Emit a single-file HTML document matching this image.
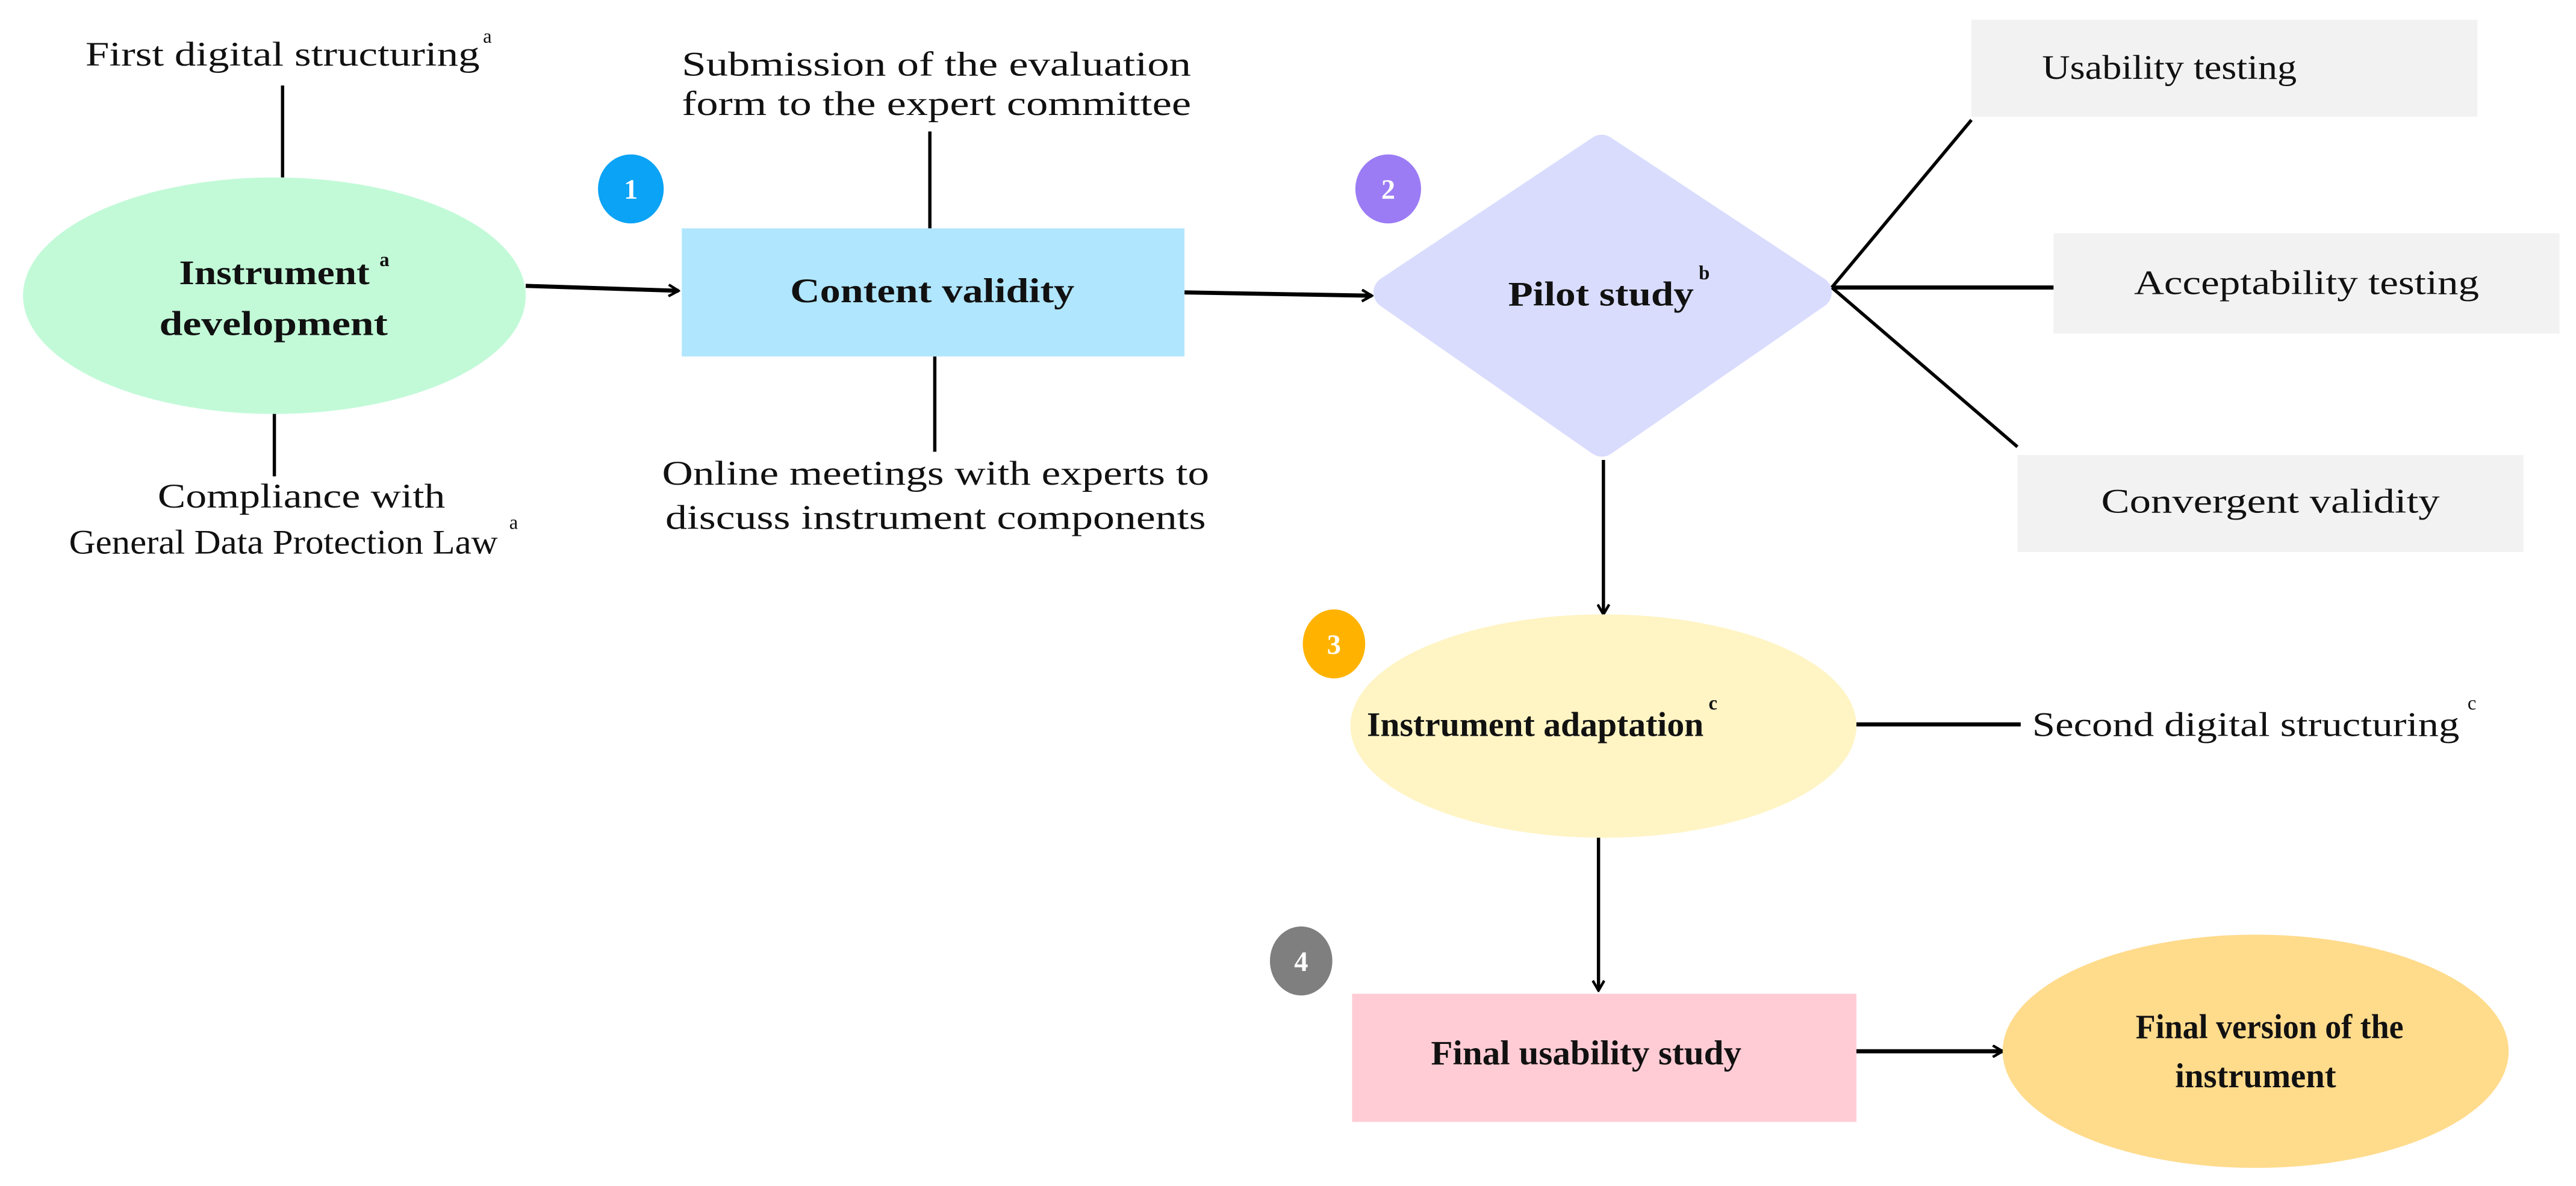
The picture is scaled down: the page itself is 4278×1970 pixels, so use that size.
<!DOCTYPE html>
<html><head><meta charset="utf-8"><style>
html,body{margin:0;padding:0;background:#fff}
svg{display:block}
text{font-family:"Liberation Serif",serif;fill:#111}
.b{font-weight:bold}
.w{fill:#fff;font-weight:bold}
</style></head><body>
<svg width="4278" height="1970" viewBox="0 0 1568 722" xmlns="http://www.w3.org/2000/svg">
<defs>
<marker id="ar" markerWidth="8" markerHeight="8" refX="7" refY="4" orient="auto" markerUnits="userSpaceOnUse">
<path d="M1,0.5 L7,4 L1,7.5" fill="none" stroke="#000" stroke-width="1.6"/>
</marker>
</defs>
<g stroke="#000" stroke-width="2" fill="none">
<line x1="172" y1="52" x2="172" y2="108"/>
<line x1="167" y1="250" x2="167" y2="290"/>
<line x1="566" y1="80" x2="566" y2="139"/>
<line x1="569" y1="217" x2="569" y2="275"/>
<line x1="320" y1="174" x2="413" y2="177" stroke-width="2.5" marker-end="url(#ar)"/>
<line x1="721" y1="178" x2="835" y2="180" stroke-width="2.5" marker-end="url(#ar)"/>
<line x1="1115" y1="175" x2="1200" y2="73"/>
<line x1="1115" y1="175" x2="1250" y2="175" stroke-width="2.5"/>
<line x1="1115" y1="175" x2="1228" y2="272"/>
<line x1="976" y1="280" x2="976" y2="374" marker-end="url(#ar)"/>
<line x1="1130" y1="441" x2="1230" y2="441" stroke-width="2.5"/>
<line x1="973" y1="510" x2="973" y2="603" marker-end="url(#ar)"/>
<line x1="1130" y1="640" x2="1219" y2="640" stroke-width="2.5" marker-end="url(#ar)"/>
</g>
<ellipse cx="167" cy="180" rx="153" ry="72" fill="#c2fad8"/>
<rect x="415" y="139" width="306" height="78" fill="#b0e6fe"/>
<polygon points="975,92 1105,178 975,268 846,178" fill="#d9dcfd" stroke="#d9dcfd" stroke-width="20" stroke-linejoin="round"/>
<rect x="1200" y="12" width="308" height="59" fill="#f2f2f2"/>
<rect x="1250" y="142" width="308" height="61" fill="#f2f2f2"/>
<rect x="1228" y="277" width="308" height="59" fill="#f2f2f2"/>
<ellipse cx="976" cy="442" rx="154" ry="68" fill="#fff4c4"/>
<rect x="823" y="605" width="307" height="78" fill="#ffccd5"/>
<ellipse cx="1373" cy="640" rx="154" ry="71" fill="#ffdb8c"/>
<ellipse cx="384" cy="115" rx="20" ry="21" fill="#0aa3f5"/>
<ellipse cx="845" cy="115" rx="20" ry="21" fill="#9b7cf5"/>
<ellipse cx="812" cy="392" rx="19" ry="21" fill="#ffb300"/>
<ellipse cx="792" cy="585" rx="19" ry="21" fill="#7f7f7f"/>
<text class="w" x="384" y="121" font-size="17" text-anchor="middle">1</text>
<text class="w" x="845" y="121" font-size="17" text-anchor="middle">2</text>
<text class="w" x="812" y="398" font-size="17" text-anchor="middle">3</text>
<text class="w" x="792" y="591" font-size="17" text-anchor="middle">4</text>
<g font-size="21">
<text x="52" y="40" textLength="240" lengthAdjust="spacingAndGlyphs">First digital structuring</text>
<text x="294" y="26" font-size="12">a</text>
<text x="415" y="46" textLength="310" lengthAdjust="spacingAndGlyphs">Submission of the evaluation</text>
<text x="415" y="70" textLength="310" lengthAdjust="spacingAndGlyphs">form to the expert committee</text>
<text x="403" y="295" textLength="333" lengthAdjust="spacingAndGlyphs">Online meetings with experts to</text>
<text x="405" y="322" textLength="329" lengthAdjust="spacingAndGlyphs">discuss instrument components</text>
<text x="96" y="309" textLength="175" lengthAdjust="spacingAndGlyphs">Compliance with</text>
<text x="42" y="337" textLength="261" lengthAdjust="spacingAndGlyphs">General Data Protection Law</text>
<text x="310" y="322" font-size="12">a</text>
<text x="1243" y="48" textLength="155" lengthAdjust="spacingAndGlyphs">Usability testing</text>
<text x="1299" y="179" textLength="210" lengthAdjust="spacingAndGlyphs">Acceptability testing</text>
<text x="1279" y="312" textLength="206" lengthAdjust="spacingAndGlyphs">Convergent validity</text>
<text x="1237" y="448" textLength="260" lengthAdjust="spacingAndGlyphs">Second digital structuring</text>
<text x="1502" y="432" font-size="12">c</text>
</g>
<g font-size="21" class="b">
<text class="b" x="109" y="173" textLength="116" lengthAdjust="spacingAndGlyphs">Instrument</text>
<text x="231" y="162" font-size="12">a</text>
<text class="b" x="97" y="204" textLength="139" lengthAdjust="spacingAndGlyphs">development</text>
<text class="b" x="481" y="184" textLength="173" lengthAdjust="spacingAndGlyphs">Content validity</text>
<text class="b" x="918" y="186" textLength="113" lengthAdjust="spacingAndGlyphs">Pilot study</text>
<text x="1034" y="170" font-size="12">b</text>
<text class="b" x="832" y="448" textLength="205" lengthAdjust="spacingAndGlyphs">Instrument adaptation</text>
<text x="1040" y="432" font-size="12">c</text>
<text class="b" x="871" y="648" textLength="189" lengthAdjust="spacingAndGlyphs">Final usability study</text>
<text class="b" x="1300" y="632" textLength="163" lengthAdjust="spacingAndGlyphs">Final version of the</text>
<text class="b" x="1324" y="662" textLength="98" lengthAdjust="spacingAndGlyphs">instrument</text>
</g>
</svg>
</body></html>
